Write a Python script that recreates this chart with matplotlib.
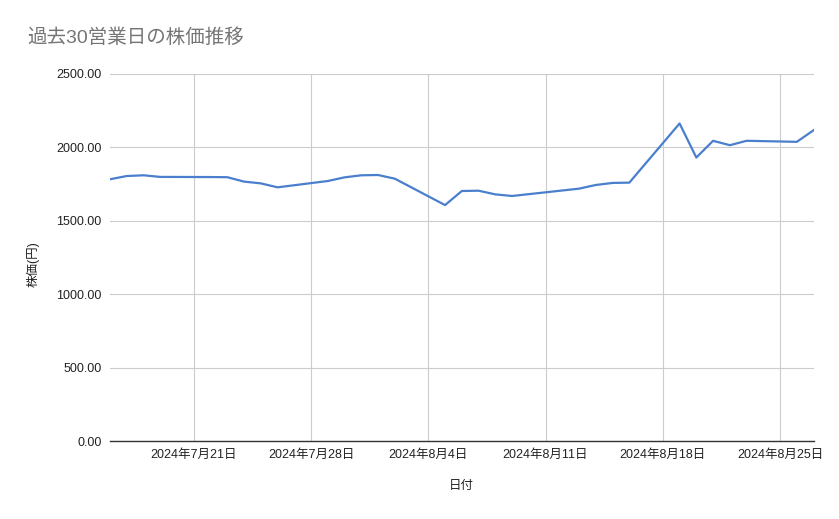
import matplotlib
matplotlib.use("Agg")
import matplotlib.pyplot as plt
import numpy as np
from datetime import datetime

plt.rcParams['font.family'] = ['Liberation Sans', 'Noto Sans CJK JP', 'DejaVu Sans']

dates = ["2024-07-16", "2024-07-17", "2024-07-18", "2024-07-19",
         "2024-07-22", "2024-07-23", "2024-07-24", "2024-07-25", "2024-07-26",
         "2024-07-29", "2024-07-30", "2024-07-31", "2024-08-01", "2024-08-02",
         "2024-08-05", "2024-08-06", "2024-08-07", "2024-08-08", "2024-08-09",
         "2024-08-13", "2024-08-14", "2024-08-15", "2024-08-16",
         "2024-08-19", "2024-08-20", "2024-08-21", "2024-08-22", "2024-08-23",
         "2024-08-26", "2024-08-27"]
prices = [1783, 1805, 1810, 1799,
          1798, 1797, 1767, 1755, 1728,
          1771, 1796, 1810, 1812, 1787,
          1607, 1703, 1705, 1680, 1669,
          1719, 1744, 1758, 1760,
          2163, 1931, 2045, 2015, 2045,
          2038, 2117]
tick_dates = ["2024-07-21", "2024-07-28", "2024-08-04", "2024-08-11", "2024-08-18", "2024-08-25"]
y_ticks = [0, 500, 1000, 1500, 2000, 2500]

x = [datetime.strptime(d, "%Y-%m-%d") for d in dates]
xt = [datetime.strptime(d, "%Y-%m-%d") for d in tick_dates]

fig = plt.figure(figsize=(8.39, 5.19), dpi=100)
ax = fig.add_axes([110/839, 1-441/519, (813.6-110)/839, (441-74)/519])

ax.plot(x, prices, color='#4a7fcd', linewidth=1.6)

ax.set_xlim(x[0], x[-1])
ax.set_ylim(0, 2500)
ax.set_yticks(y_ticks)
ax.set_yticklabels(["%.2f" % v for v in y_ticks])
ax.set_xticks(xt)
ax.set_xticklabels(["%d年%d月%d日" % (d.year, d.month, d.day) for d in xt])

ax.grid(True, color='#cccccc', linewidth=0.8)
ax.set_axisbelow(True)
for s in ['top', 'right', 'left']:
    ax.spines[s].set_visible(False)
ax.spines['bottom'].set_color('#333333')
ax.spines['bottom'].set_linewidth(1.0)
ax.tick_params(axis='both', length=0, labelsize=9, colors='#222222')
ax.tick_params(axis='y', pad=6)
ax.tick_params(axis='x', pad=6)

fig.text(27/839, 1-38/519, "過去30営業日の株価推移", fontsize=14, color='#757575',
         ha='left', va='center')
fig.text(33/839, 1-264/519, "株価(円)", fontsize=9, color='#222222',
         rotation=90, ha='center', va='center')
fig.text(461/839, 1-486/519, "日付", fontsize=9, color='#222222',
         ha='center', va='center')

fig.savefig("out.png", dpi=100)
